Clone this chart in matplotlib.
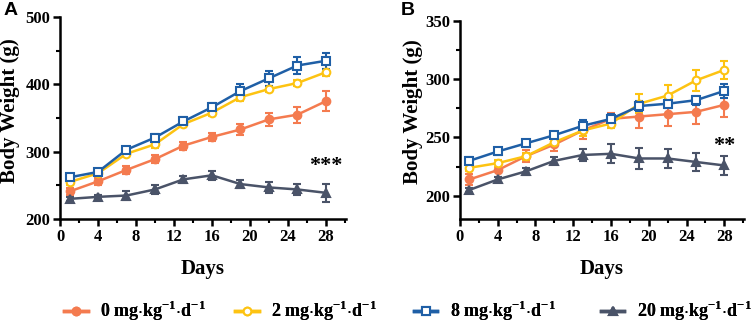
import matplotlib
matplotlib.use('Agg')
import matplotlib.pyplot as plt
from matplotlib.lines import Line2D
from matplotlib.ticker import MultipleLocator

plt.rcParams['font.family'] = 'Liberation Serif'
plt.rcParams['font.weight'] = 'bold'
plt.rcParams['mathtext.fontset'] = 'custom'
plt.rcParams['mathtext.rm'] = 'Liberation Serif:bold'
plt.rcParams['mathtext.bf'] = 'Liberation Serif:bold'

days = [1, 4, 7, 10, 13, 16, 19, 22, 25, 28]
labels = [r'0 mg$\cdot$kg$^{-1}$$\cdot$d$^{-1}$',
          r'2 mg$\cdot$kg$^{-1}$$\cdot$d$^{-1}$',
          r'8 mg$\cdot$kg$^{-1}$$\cdot$d$^{-1}$',
          r'20 mg$\cdot$kg$^{-1}$$\cdot$d$^{-1}$']

# panel A
a_0 = [241, 256, 273, 289, 309, 322, 333, 348, 355, 375]
a_0_err = [5, 5, 6, 6, 6, 6, 8, 10, 12, 15]
a_2 = [255, 268, 297, 311, 341, 358, 381, 393, 402, 418]
a_2_err = [4, 4, 5, 5, 5, 5, 6, 5, 5, 5]
a_8 = [262, 270, 303, 321, 345, 366, 390, 409, 428, 435]
a_8_err = [4, 4, 4, 6, 6, 7, 10, 11, 12, 12]
a_20 = [230, 233, 235, 244, 259, 265, 252, 247, 244, 239]
a_20_err = [3, 3, 6, 7, 5, 7, 6, 8, 8, 13]

# panel B
b_0 = [214, 222, 234, 244, 256, 266, 268, 270, 272, 278]
b_0_err = [5, 6, 5, 6, 7, 5, 10, 10, 10, 10]
b_2 = [224, 228, 234, 246, 256, 262, 279, 286, 299, 308]
b_2_err = [3, 3, 3, 3, 5, 4, 8, 9, 9, 8]
b_8 = [230, 238, 245, 252, 260, 266, 277, 279, 282, 290]
b_8_err = [3, 3, 3, 3, 5, 4, 4, 4, 4, 6]
b_20 = [205, 214, 221, 230, 235, 236, 232, 232, 229, 226]
b_20_err = [2, 2, 3, 3, 5, 8, 9, 8, 8, 8]

colors = ['#F47B4F', '#FDC312', '#1F5FA6', '#4A5368']
markers = ['o', 'o', 's', '^']
filled = [True, False, False, True]

fig = plt.figure(figsize=(7.54, 3.27), dpi=100)
axA = fig.add_axes([0.0796, 0.330, 0.379, 0.618])
axB = fig.add_axes([0.610, 0.330, 0.377, 0.606])


def draw(ax, series, errs):
    for y, e, c, m, f in zip(series, errs, colors, markers, filled):
        ax.errorbar(days, y, yerr=e, color=c, lw=1.8, marker=m,
                    ms=5.5 if m != 's' else 6,
                    mfc=c if f else 'white', mec=c, mew=1.5,
                    capsize=3, elinewidth=1.5, capthick=1.5)
    for s in ['top', 'right']:
        ax.spines[s].set_visible(False)
    for s in ['left', 'bottom']:
        ax.spines[s].set_linewidth(1.8)
    ax.tick_params(which='major', width=1.8, length=5, labelsize=12, pad=2)
    ax.tick_params(which='minor', width=1.5, length=3)
    ax.set_xticks(range(0, 29, 4))
    ax.xaxis.set_minor_locator(MultipleLocator(2))
    ax.set_xlim(0, 30.1)
    ax.set_xlabel('Days', fontsize=15, fontweight='bold', labelpad=10)
    ax.set_ylabel('Body Weight (g)', fontsize=15, fontweight='bold')


draw(axA, [a_0, a_2, a_8, a_20], [a_0_err, a_2_err, a_8_err, a_20_err])
axA.set_ylim(200, 500)
axA.set_yticks([200, 300, 400, 500])
axA.yaxis.set_minor_locator(MultipleLocator(50))
axA.yaxis.set_label_coords(-0.140, 0.535)
axA.text(28, 264, '***', ha='center', va='bottom', fontsize=16, fontweight='bold')

draw(axB, [b_0, b_2, b_8, b_20], [b_0_err, b_2_err, b_8_err, b_20_err])
axB.set_ylim(180, 350)
axB.set_yticks([200, 250, 300, 350])
axB.yaxis.set_minor_locator(MultipleLocator(25))
axB.yaxis.set_label_coords(-0.130, 0.543)
axB.text(28, 234, '**', ha='center', va='bottom', fontsize=16, fontweight='bold')

fig.text(0.004, 0.995, 'A', family='Liberation Sans', fontsize=14, fontweight='bold', va='top')
fig.text(0.532, 0.995, 'B', family='Liberation Sans', fontsize=14, fontweight='bold', va='top')

# legend entries placed one by one, as in the figure
leg_x = [0.085, 0.312, 0.549, 0.797]
for lab, c, m, f, x in zip(labels, colors, markers, filled, leg_x):
    h = Line2D([], [], color=c, lw=2.5, marker=m, ms=5.5,
               mfc=c if f else 'white', mec=c, mew=1.5)
    lg = fig.legend([h], [lab], loc='center left', bbox_to_anchor=(x, 0.048),
                    frameon=False, fontsize=13, handlelength=1.3,
                    handletextpad=0.7, borderaxespad=0, borderpad=0)
    fig.add_artist(lg)

fig.savefig('out.png', dpi=100)
